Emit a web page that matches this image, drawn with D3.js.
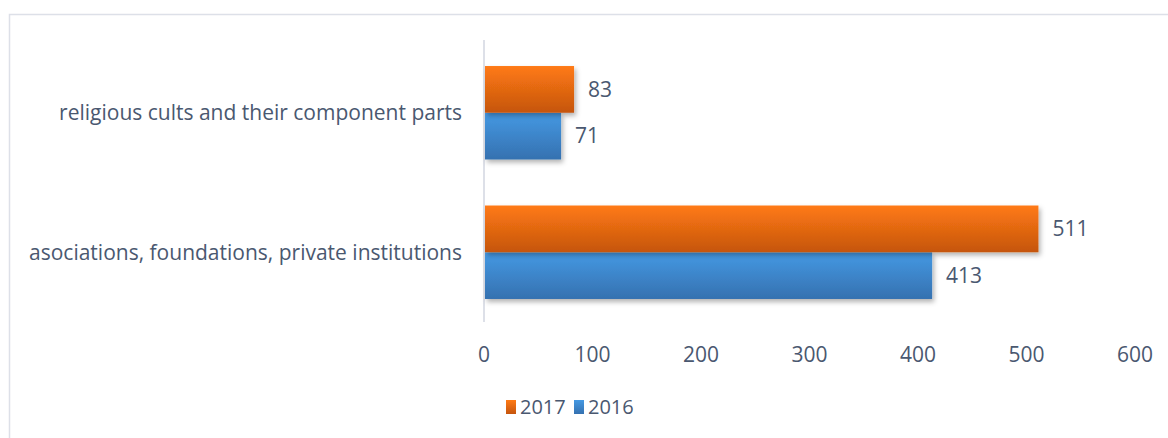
<!DOCTYPE html>
<html>
<head>
<meta charset="utf-8">
<script src="https://cdn.jsdelivr.net/npm/d3@7"></script>
<style>
body { margin: 0; background: #fff; }
text { font-family: "Open Sans", "Liberation Sans", sans-serif; fill: #4a5870; }
</style>
</head>
<body>
<script>
// data
var categories = ["religious cults and their component parts", "asociations, foundations, private institutions"];
var series = ["2017", "2016"];
var values2017 = [83, 511];
var values2016 = [71, 413];
var ticks = [0, 100, 200, 300, 400, 500, 600];

var W = 1168, H = 438;
var svg = d3.select("body").append("svg").attr("width", W).attr("height", H);

// gradients + shadow
var defs = svg.append("defs");
function grad(id, top, bottom) {
    var g = defs.append("linearGradient").attr("id", id)
        .attr("x1", 0).attr("y1", 0).attr("x2", 0).attr("y2", 1);
    g.append("stop").attr("offset", "0%").attr("stop-color", top);
    g.append("stop").attr("offset", "100%").attr("stop-color", bottom);
}
grad("g2017", "#ff7a14", "#c5550e");
grad("g2016", "#4599e3", "#3571b0");
var f = defs.append("filter").attr("id", "shadow")
    .attr("x", "-5%").attr("y", "-10%").attr("width", "120%").attr("height", "140%");
f.append("feDropShadow").attr("dx", 2).attr("dy", 3).attr("stdDeviation", 2.5)
    .attr("flood-color", "#000").attr("flood-opacity", 0.3);

// chart border (only top/left visible in the crop)
svg.append("path").attr("d", "M9.5," + H + "V14.5H" + W)
    .attr("fill", "none").attr("stroke", "#dde0e8").attr("stroke-width", 1.5);

var x = d3.scaleLinear().domain([0, 600]).range([484, 1135]);
var y = d3.scaleBand().domain(categories).range([43, 322]).paddingInner(0.33).paddingOuter(0.165);
var ySub = d3.scaleBand().domain(series).range([0, y.bandwidth()]);

// vertical axis line
svg.append("line").attr("x1", x(0)).attr("x2", x(0)).attr("y1", 40).attr("y2", 322)
    .attr("stroke", "#dde0e8").attr("stroke-width", 2);

var rows = categories.map(function(c, i) {
    return { cat: c, vals: [{ s: "2017", v: values2017[i] }, { s: "2016", v: values2016[i] }] };
});

var g = svg.selectAll("g.cat").data(rows).enter().append("g")
    .attr("transform", function(d) { return "translate(0," + y(d.cat) + ")"; });

g.selectAll("rect").data(function(d) { return d.vals.slice().reverse(); }).enter().append("rect")
    .attr("x", x(0) + 1)
    .attr("y", function(d) { return ySub(d.s); })
    .attr("width", function(d) { return x(d.v) - x(0) - 1; })
    .attr("height", ySub.bandwidth())
    .attr("fill", function(d) { return "url(#g" + d.s + ")"; })
    .attr("filter", "url(#shadow)");

g.selectAll("text.val").data(function(d) { return d.vals; }).enter().append("text")
    .attr("class", "val")
    .attr("x", function(d) { return x(d.v) + 14; })
    .attr("y", function(d) { return ySub(d.s) + ySub.bandwidth() / 2; })
    .attr("dy", "0.35em")
    .style("font-size", "21px")
    .text(function(d) { return d.v; });

g.append("text")
    .attr("x", 462)
    .attr("y", y.bandwidth() / 2)
    .attr("dy", "0.35em")
    .attr("text-anchor", "end")
    .style("font-size", "21px")
    .text(function(d) { return d.cat; });

// x tick labels
svg.selectAll("text.tick").data(ticks).enter().append("text")
    .attr("class", "tick")
    .attr("x", function(d) { return x(d); })
    .attr("y", 355)
    .attr("dy", "0.35em")
    .attr("text-anchor", "middle")
    .style("font-size", "21px")
    .text(function(d) { return d; });

// legend
var leg = svg.selectAll("g.leg").data(series).enter().append("g")
    .attr("transform", function(d, i) { return "translate(" + (506 + i * 68) + ",407)"; });
leg.append("rect").attr("x", 0).attr("y", -7).attr("width", 10).attr("height", 14)
    .attr("fill", function(d) { return "url(#g" + d + ")"; });
leg.append("text").attr("x", 14).attr("dy", "0.35em").style("font-size", "20px")
    .text(function(d) { return d; });
</script>
</body>
</html>
